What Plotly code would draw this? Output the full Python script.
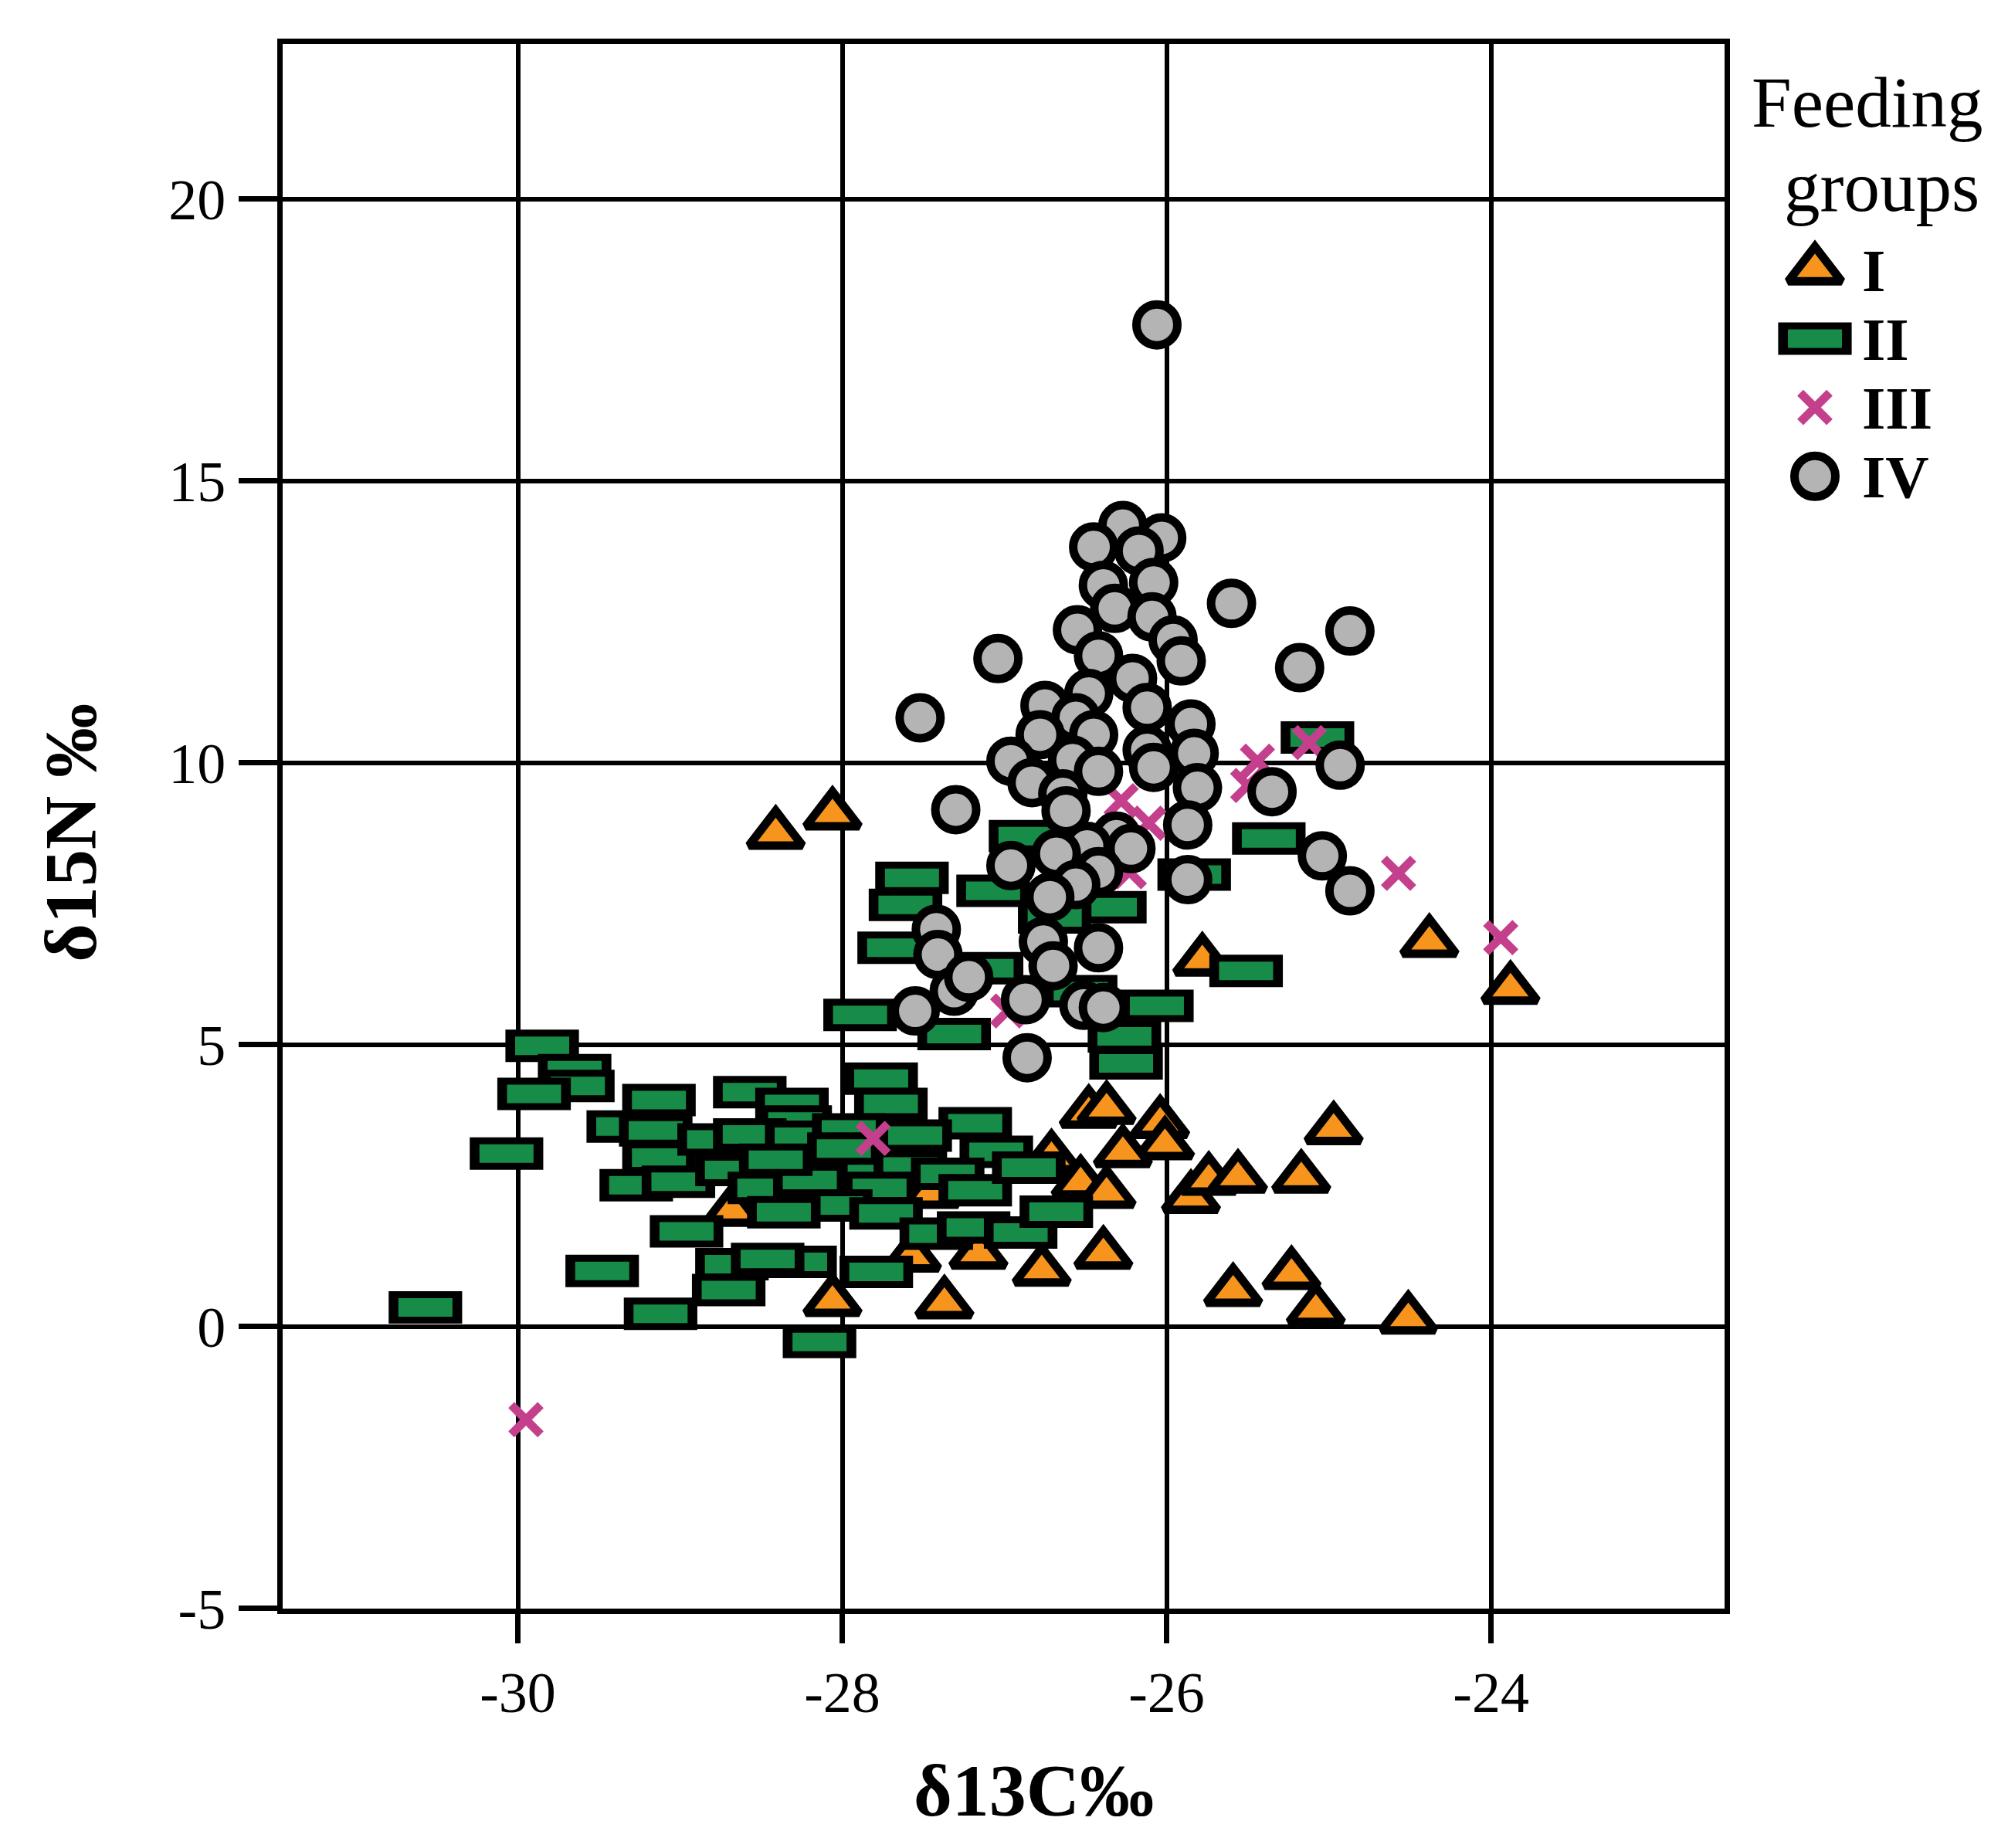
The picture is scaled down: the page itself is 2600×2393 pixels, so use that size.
import numpy as np
import plotly.graph_objects as go

# feeding group I  (triangles)
I_x = [-28.68, -26.48, -26.37, -26.04, -26.01, -26.27, -26.71, -26.53, -26.37, -25.85,
       -25.74, -25.56, -27.45, -27.57, -27.16, -26.77, -26.39, -25.59, -28.06, -27.37,
       -24.97, -25.17, -25.23, -25.08, -24.51, -23.88, -24.38, -25.78, -28.41, -28.06]
I_y = [2.05, 3.79, 3.86, 3.61, 3.23, 3.09, 3.0, 2.55, 2.37, 2.28,
       2.6, 2.64, 2.37, 1.24, 1.29, 0.99, 1.29, 0.63, 0.45, 0.41,
       3.5, 2.64, 0.93, 0.29, 0.14, 5.99, 6.82, 6.49, 8.74, 9.08]

# feeding group II  (bars)
II_x = [-30.57, -30.07, -29.85, -29.65, -29.63, -29.9, -29.13, -29.35, -29.15, -29.13,
        -29.27, -29.01, -28.57, -28.31, -28.29, -28.79, -28.57, -28.68, -28.48, -28.2,
        -28.96, -29.48, -28.68, -28.70, -29.12, -28.26, -28.46, -28.14, -27.76, -27.70,
        -27.18, -28.25, -27.96, -27.55, -27.05, -28.41, -27.80, -27.58, -27.35, -27.99,
        -27.77, -27.18, -28.04, -27.73, -26.85, -27.42, -27.19, -26.9, -26.68, -27.79,
        -28.36, -27.89, -27.31, -26.06, -26.26, -26.25, -26.87, -27.57, -27.61, -27.07,
        -26.35, -26.69, -25.83, -27.68, -27.11, -26.53, -25.07, -25.37, -25.51]
II_y = [0.34, 3.07, 4.98, 4.55, 4.27, 4.13, 4.02, 3.55, 3.48, 3.0,
        2.51, 2.57, 4.16, 3.95, 3.64, 3.32, 3.41, 2.78, 2.46, 2.6,
        1.69, 0.99, 1.11, 0.65, 0.23, 1.15, 1.2, -0.27, 4.40, 3.95,
        3.61, 3.37, 3.50, 3.39, 3.10, 2.96, 2.80, 2.84, 2.71, 3.16,
        2.46, 2.42, 2.15, 2.01, 2.82, 1.65, 1.76, 1.67, 2.04, 0.97,
        2.03, 5.53, 5.19, 5.69, 5.15, 4.67, 8.7, 7.96, 7.48, 7.73,
        7.44, 7.26, 8.02, 6.72, 6.36, 5.95, 10.45, 8.66, 6.31]

# feeding group III  (crosses)
III_x = [-29.95, -27.81, -26.98, -26.28, -26.11, -26.23, -25.44, -25.5, -25.12, -24.57, -23.94]
III_y = [-1.65, 3.34, 5.6, 9.33, 8.93, 8.07, 10.03, 9.6, 10.36, 8.04, 6.90]

# feeding group IV  (circles)
IV_x = [-26.06, -26.27, -26.03, -26.45, -26.17, -26.39, -26.08, -25.6, -26.32, -26.09,
        -26.55, -25.96, -27.04, -26.42, -24.87, -25.91, -25.18, -27.52, -26.21, -26.48,
        -26.12, -26.75, -26.56, -26.78, -26.45, -25.85, -26.12, -25.83, -26.96, -26.58,
        -26.08, -26.42, -26.83, -25.81, -26.64, -26.62, -27.3, -25.87, -26.31, -26.22,
        -26.49, -26.68, -26.96, -26.42, -26.56, -25.87, -26.72, -27.42, -27.41, -26.76,
        -26.42, -26.70, -27.31, -27.22, -27.55, -26.87, -26.51, -26.39, -26.86, -24.93,
        -25.35, -25.04, -24.87]
IV_y = [17.77, 14.21, 13.99, 13.83, 13.76, 13.15, 13.20, 12.83, 12.74, 12.59,
        12.36, 12.18, 11.85, 11.9, 12.34, 11.81, 11.69, 10.8, 11.5, 11.23,
        10.98, 11.02, 10.8, 10.5, 10.5, 10.69, 10.23, 10.17, 10.03, 10.05,
        9.92, 9.85, 9.65, 9.56, 9.45, 9.15, 9.17, 8.9, 8.70, 8.48,
        8.52, 8.39, 8.18, 8.07, 7.84, 7.93, 7.62, 7.05, 6.6, 6.83,
        6.72, 6.4, 5.95, 6.2, 5.6, 5.8, 5.7, 5.66, 4.77, 9.96,
        9.49, 8.35, 7.73]

groups = ['I', 'II', 'III', 'IV']
x_ticks = [-30, -28, -26, -24]
x_ticktext = ['-30', '-28', '-26', '-24']
y_ticks = [-5, 0, 5, 10, 15, 20]
y_ticktext = ['-5', '0', '5', '10', '15', '20']

ORANGE = '#f7941d'
GREEN = '#178c48'
PINK = '#c4408c'
GREY = '#b4b4b4'
FONT = 'Liberation Serif'
W, H = 2600, 2393


def tri(xs, ys, xa='x', ya='y'):
    return go.Scatter(x=xs, y=ys, mode='markers', xaxis=xa, yaxis=ya, cliponaxis=False,
                      marker=dict(symbol='triangle-up', size=60, color=ORANGE, opacity=1,
                                  line=dict(width=11, color='black')))


def bars(xs, ys, xa='x', ya='y'):
    # each bar = black line-ew underneath a thinner green one, kept in draw order
    n = len(xs)
    cols = ['black', GREEN] * n
    return go.Scatter(x=np.repeat(xs, 2), y=np.repeat(ys, 2), mode='markers',
                      xaxis=xa, yaxis=ya, cliponaxis=False,
                      marker=dict(symbol='line-ew', size=[68, 50] * n, color=cols, opacity=1,
                                  line=dict(width=[42, 24] * n, color=cols)))


def cross(xs, ys, xa='x', ya='y'):
    return go.Scatter(x=xs, y=ys, mode='markers', xaxis=xa, yaxis=ya, cliponaxis=False,
                      marker=dict(symbol='x-thin', size=38, color=PINK, opacity=1,
                                  line=dict(width=11, color=PINK)))


def circ(xs, ys, xa='x', ya='y'):
    return go.Scatter(x=xs, y=ys, mode='markers', xaxis=xa, yaxis=ya, cliponaxis=False,
                      marker=dict(symbol='circle', size=53, color=GREY, opacity=1,
                                  line=dict(width=11, color='black')))


fig = go.Figure()
fig.add_trace(tri(I_x, I_y))
fig.add_trace(bars(II_x, II_y))
fig.add_trace(cross(III_x, III_y))
fig.add_trace(circ(IV_x, IV_y))

# legend drawn on a small side axis
fig.add_trace(tri([0], [groups[0]], 'x2', 'y2'))
fig.add_trace(bars([0], [groups[1]], 'x2', 'y2'))
fig.add_trace(cross([0], [groups[2]], 'x2', 'y2'))
fig.add_trace(circ([0], [groups[3]], 'x2', 'y2'))

axis_common = dict(ticks='outside', tickwidth=7, tickcolor='black', tickmode='array',
                   showline=True, mirror=True, linecolor='black', linewidth=7,
                   showgrid=True, gridcolor='black', gridwidth=6, zeroline=False,
                   tickfont=dict(family=FONT, size=74, color='black'))

fig.update_layout(
    width=W, height=H, margin=dict(l=0, r=0, t=0, b=0),
    paper_bgcolor='white', plot_bgcolor='white', showlegend=False,
    hovermode=False,
    xaxis=dict(domain=[358 / W, 2225 / W], range=[-31.45, -22.56], tickvals=x_ticks,
               ticktext=x_ticktext, ticklen=38, anchor='y', **axis_common),
    yaxis=dict(domain=[1 - 2112 / H, 1 - 50 / H], range=[-5, 22.75], tickvals=y_ticks,
               ticktext=y_ticktext, ticklen=50, ticklabelstandoff=2, anchor='x', **axis_common),
    xaxis2=dict(domain=[2302 / W, 2382 / W], range=[-1, 1], visible=False, anchor='y2'),
    yaxis2=dict(domain=[1 - 665 / H, 1 - 302 / H], type='category', categoryorder='array',
                categoryarray=groups, range=[3.5, -0.5], anchor='x2', side='right',
                tickmode='array', tickvals=groups, ticktext=groups,
                showgrid=False, showline=False, zeroline=False, ticks='',
                ticklabelstandoff=20,
                tickfont=dict(family=FONT, size=78, color='black', weight='bold')),
)

fig.add_annotation(text='δ13C‰', xref='paper', yref='paper', x=1330 / W, y=1 - 2352 / H,
                   showarrow=False, xanchor='center', yanchor='middle',
                   font=dict(family=FONT, size=96, color='black', weight='bold'))
fig.add_annotation(text='δ15N ‰', xref='paper', yref='paper', x=84 / W, y=1 - 1090 / H,
                   showarrow=False, textangle=-90, xanchor='center', yanchor='middle',
                   font=dict(family=FONT, size=96, color='black', weight='bold'))
# legend heading, two stacked lines
fig.add_annotation(text='Feeding', xref='paper', yref='paper', x=2562 / W, y=1 - 181 / H,
                   showarrow=False, xanchor='right', yanchor='bottom',
                   font=dict(family=FONT, size=93, color='black'))
fig.add_annotation(text='groups', xref='paper', yref='paper', x=2557 / W, y=1 - 183 / H,
                   showarrow=False, xanchor='right', yanchor='top',
                   font=dict(family=FONT, size=93, color='black'))

fig.write_html("out.html")
